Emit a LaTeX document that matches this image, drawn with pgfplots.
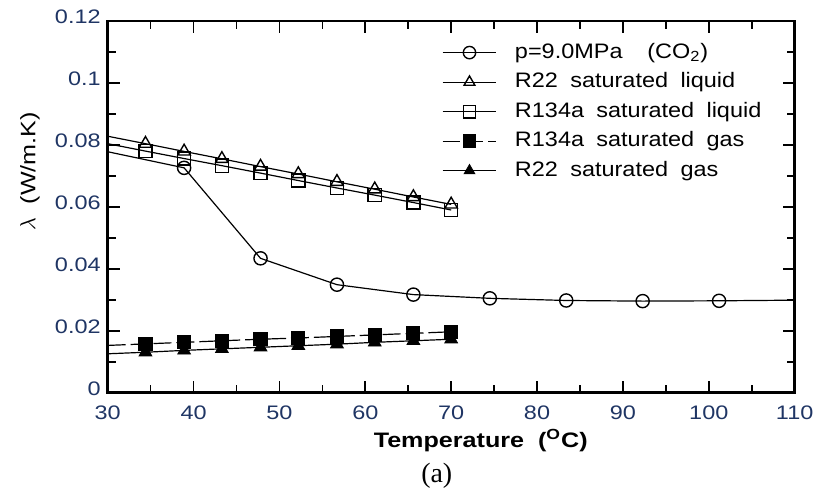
\documentclass[border=0pt]{standalone}
\usepackage{fontspec}
\setmainfont{Liberation Sans}[FakeStretch=1.2]
\newfontfamily\legfont{Liberation Sans}[FakeStretch=1.12, WordSpace=1.9]
\newfontfamily\capfont{Liberation Serif}
\usepackage{pgfplots}
\pgfplotsset{compat=1.18}
\definecolor{ticklab}{HTML}{1F3564}

\begin{document}
\begin{tikzpicture}
\begin{axis}[
  scale only axis,
  width=344.5pt, height=186.5pt,
  xmin=30, xmax=110, ymin=0, ymax=0.12,
  clip=false,
  xtick={30,40,...,110},
  ytick={0,0.02,...,0.12},
  minor x tick num=1, minor y tick num=1,
  scaled y ticks=false,
  /pgf/number format/assume math mode=true,
  yticklabel style={/pgf/number format/fixed, /pgf/number format/precision=2,
    font=\fontsize{9.8}{11}\selectfont, text=ticklab, yshift=2pt},
  xticklabel style={font=\fontsize{9.8}{11}\selectfont, text=ticklab, yshift=-3pt},
  tick align=inside,
  major tick length=6pt, minor tick length=4pt,
  every tick/.style={black, line width=0.8pt},
  axis line style={line width=1.4pt},
  xlabel={\bfseries Temperature\ \ (\textsuperscript{O}C)},
  xlabel style={at={(rel axis cs:0.543,-0.129)}, anchor=center,
    font=\fontsize{10.5}{12}\selectfont},
  ylabel={$\lambda$\ \ (W/m.K)},
  ylabel style={at={(rel axis cs:-0.113,0.595)}, anchor=center,
    font=\fontsize{10.5}{12}\selectfont},
  every axis plot/.append style={black, line width=0.6pt},
  every mark/.append style={xscale=1.12},
  legend cell align=left,
  legend style={draw=none, fill=none, at={(rel axis cs:0.486,0.954)},
    anchor=north west, inner sep=0pt, row sep=0.6pt,
    font=\legfont\fontsize{10.5}{12}\selectfont,
    nodes={text height=8pt, text depth=2.2pt, inner sep=2pt},
    /tikz/every odd column/.append style={column sep=7pt}},
  legend image code/.code={
    \draw[#1, mark=none] (0cm,0cm) -- (0.95cm,0cm);
    \draw[#1, only marks, mark phase=1, mark size=3.1pt] plot coordinates {(0.475cm,0cm)};
  },
]
\coordinate (O) at (rel axis cs:0,0);

% CO2 at 9.0 MPa
\addplot[mark=o, mark size=3.3pt, mark phase=2,
  mark options={solid, fill=white, line width=0.7pt}]
  coordinates {
    (30,0.0778)(38.9,0.0726)(47.8,0.0434)(56.7,0.0349)(65.6,0.0317)
    (74.5,0.0305)(83.4,0.0298)(92.3,0.0296)(101.2,0.0297)
  };
\addlegendentry{p=9.0MPa\ \ (CO\textsubscript{2})}
\addplot[forget plot, no marks] coordinates {(101.2,0.0297)(110,0.0299)};

% R22 saturated liquid
\addplot[mark=triangle, mark size=3.6pt, mark phase=2,
  mark options={solid, fill=white, line width=0.7pt}]
  coordinates {
    (30,0.0828)(34.4,0.0804)(38.9,0.0779)(43.3,0.0755)(47.8,0.0730)
    (52.2,0.0706)(56.7,0.0681)(61.1,0.0657)(65.6,0.0632)(70,0.0608)
  };
\addlegendentry{R22 saturated liquid}

% R134a saturated liquid
\addplot[mark=square, mark size=3.3pt, mark phase=2,
  mark options={solid, fill=white, line width=0.7pt}]
  coordinates {
    (30,0.0804)(34.4,0.0780)(38.9,0.0756)(43.3,0.0733)(47.8,0.0709)
    (52.2,0.0685)(56.7,0.0661)(61.1,0.0638)(65.6,0.0614)(70,0.0590)
  };
\addlegendentry{R134a saturated liquid}

% R134a saturated gas
\addplot[mark=square*, mark size=3.3pt, mark phase=2,
  dash pattern=on 9pt off 2.5pt,
  mark options={solid, fill=black, draw=black, line width=0.5pt}]
  coordinates {
    (30,0.0153)(34.4,0.0158)(38.9,0.0163)(43.3,0.0168)(47.8,0.0173)
    (52.2,0.0177)(56.7,0.0182)(61.1,0.0187)(65.6,0.0192)(70,0.0197)
  };
\addlegendentry{R134a saturated gas}

% R22 saturated gas
\addplot[mark=triangle*, mark size=3.7pt, mark phase=2,
  mark options={solid, fill=black, draw=black, line width=0.4pt}]
  coordinates {
    (30,0.0126)(34.4,0.0131)(38.9,0.0137)(43.3,0.0142)(47.8,0.0147)
    (52.2,0.0152)(56.7,0.0157)(61.1,0.0163)(65.6,0.0168)(70,0.0173)
  };
\addlegendentry{R22 saturated gas}

\node[font=\capfont\fontsize{14}{16}\selectfont] at (rel axis cs:0.479,-0.2225) {(a)};
\end{axis}
\path (O) ++(-54pt,-49.5pt) rectangle ++(410pt,246.5pt);
\end{tikzpicture}
\end{document}
